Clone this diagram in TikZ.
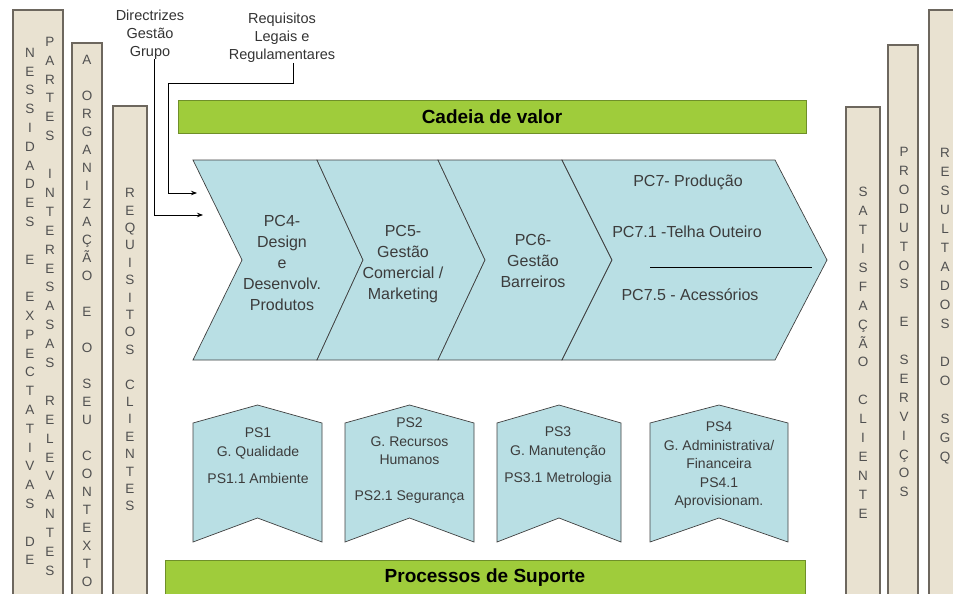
\documentclass[tikz,border=0pt]{standalone}
\usepackage{fontspec}
\setmainfont{Liberation Sans}
\usetikzlibrary{arrows.meta}

\definecolor{barfill}{HTML}{E9E2D1}
\definecolor{barline}{HTML}{6D675E}
\definecolor{chevfill}{HTML}{B9DFE4}
\definecolor{valgreen}{HTML}{9FCC3B}
\definecolor{txtgray}{HTML}{3C3C3C}

\tikzset{
  bar/.style={fill=barfill, draw=barline, line width=1.2pt},
  vtext/.style={font=\fontsize{13.5}{#1}\selectfont, align=center, inner sep=0pt, anchor=north, text=txtgray!90},
  chev/.style={fill=chevfill, draw=black!75, line width=0.7pt},
  chevtext/.style={font=\fontsize{16}{21}\selectfont, align=center, text=txtgray, inner sep=0pt},
  suptext/.style={font=\fontsize{14}{18.5}\selectfont, align=center, text=txtgray, inner sep=0pt},
  greenbar/.style={fill=valgreen, draw=valgreen!70!black, line width=0.6pt, font=\bfseries\fontsize{19}{22}\selectfont},
  intext/.style={font=\fontsize{14.5}{18}\selectfont, align=center, text=black!80, inner sep=0pt},
  flow/.style={line width=0.8pt, -{Stealth[length=6pt,width=4.5pt]}}
}

\begin{document}
\begin{tikzpicture}[x=1pt, y=-1pt]
        \useasboundingbox (0,0) rectangle (953,594);

        % side bars
        \draw[bar] (13,10) rectangle (63,604);
        \draw[bar] (72,43) rectangle (102,604);
        \draw[bar] (113,106) rectangle (147,604);
        \draw[bar] (846,107) rectangle (880,604);
        \draw[bar] (888,45) rectangle (918,604);
        \draw[bar] (929,10) rectangle (965,604);

        \node[vtext=18.8] (necess) at (30,47.8) {N\\E\\S\\S\\I\\D\\A\\D\\E\\S\\~\\E\\~\\E\\X\\P\\E\\C\\T\\A\\T\\I\\V\\A\\S\\~\\D\\E};
        \node[vtext=18.9] (partes) at (50,36.8) {P\\A\\R\\T\\E\\S\\~\\I\\N\\T\\E\\R\\E\\S\\A\\S\\A\\S\\~\\R\\E\\L\\E\\V\\A\\N\\T\\E\\S};
        \node[vtext=18] (contexto) at (87,55.2) {A\\~\\O\\R\\G\\A\\N\\I\\Z\\A\\Ç\\Ã\\O\\~\\E\\~\\O\\~\\S\\E\\U\\~\\C\\O\\N\\T\\E\\X\\T\\O};
        \node[vtext=17.4] (reqcli) at (130,188.2) {R\\E\\Q\\U\\I\\S\\I\\T\\O\\S\\~\\C\\L\\I\\E\\N\\T\\E\\S};
        \node[vtext=18.9] (satisf) at (863,187.2) {S\\A\\T\\I\\S\\F\\A\\Ç\\Ã\\O\\~\\C\\L\\I\\E\\N\\T\\E};
        \node[vtext=18.9] (produtos) at (904,147.2) {P\\R\\O\\D\\U\\T\\O\\S\\~\\E\\~\\S\\E\\R\\V\\I\\Ç\\O\\S};
        \node[vtext=19] (resultados) at (945,148.2) {R\\E\\S\\U\\L\\T\\A\\D\\O\\S\\~\\D\\O\\~\\S\\G\\Q};

        % green bands
        \node[greenbar, minimum width=628pt, minimum height=33pt] (cadeia) at (492,116.5) {Cadeia de valor};
        \node[greenbar, minimum width=640pt, minimum height=36pt] (suporte) at (485,578) {Processos de Suporte};

        % value chain
        \foreach \a/\b/\c/\d in {193/242/317/363, 317/363/438/485, 438/485/562/612, 562/612/775/827}
        {
                \draw[chev] (\a,160) -- (\c,160) -- (\d,260) -- (\c,360) -- (\a,360) -- (\b,260) -- cycle;
        }
        \node[chevtext] (pc4) at (282,262.5) {PC4-\\Design\\e\\Desenvolv.\\Produtos};
        \node[chevtext] (pc5) at (403,264) {PC5-\\Gestão\\Comercial /\\Marketing};
        \node[chevtext] (pc6) at (533,260.5) {PC6-\\Gestão\\Barreiros};
        \node[chevtext] (pc7) at (688,182) {PC7- Produção};
        \node[chevtext] (pc71) at (687,232) {PC7.1 -Telha Outeiro};
        \node[chevtext] (pc75) at (690,295) {PC7.5 - Acessórios};
        \draw[line width=0.8pt] (650,267) -- (812,267);

        % support processes
        \foreach \l/\r in {193/322, 345/474, 497/621, 650/788}
        {
                \draw[chev] (\l,423) -- ({(\l+\r)/2},405) -- (\r,423) -- (\r,542) -- ({(\l+\r)/2},518) -- (\l,542) -- cycle;
        }
        \node[suptext] (ps1) at (258,456) {PS1\\G. Qualidade\\[9pt]PS1.1 Ambiente};
        \node[suptext] (ps2) at (409.5,461) {PS2\\G. Recursos\\Humanos\\[17.5pt]PS2.1 Segurança};
        \node[suptext] (ps3) at (558,456.5) {PS3\\G. Manutenção\\[9pt]PS3.1 Metrologia};
        \node[suptext] (ps4) at (719,465.5) {PS4\\G. Administrativa/\\Financeira\\PS4.1\\Aprovisionam.};

        % inputs
        \node[intext] (dir) at (150,34.5) {Directrizes\\Gestão\\Grupo};
        \node[intext] (req) at (282,38) {Requisitos\\Legais e\\Regulamentares};
        \coordinate (inA) at (197,193);
        \coordinate (inB) at (203,215);
        \coordinate (reqbend) at (168,83);
        \draw[flow] ([xshift=4pt]dir.south) |- (inB);
        \draw[flow] ([xshift=11pt]req.south) |- (reqbend) |- (inA);

\end{tikzpicture}
\end{document}
